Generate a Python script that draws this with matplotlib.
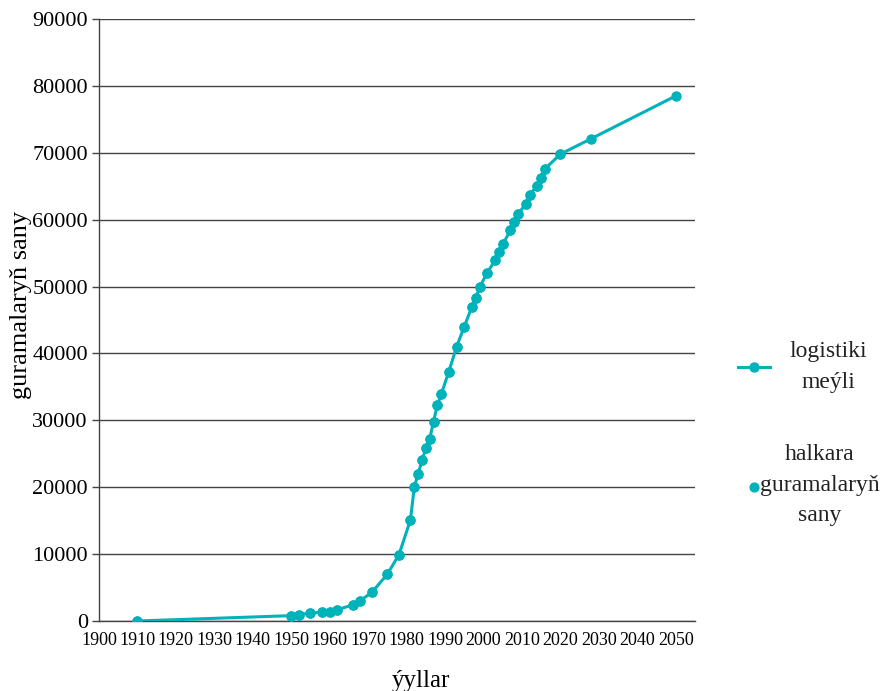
"""Logistic growth of the number of international organisations."""
import matplotlib

matplotlib.use("Agg")
import matplotlib.pyplot as plt

# model curve (logistic fit), years and values
model_years = [1910, 1950, 1952, 1955, 1958, 1960, 1962, 1966, 1968, 1971, 1975,
               1978, 1981, 1982, 1983, 1984, 1985, 1986, 1987, 1988, 1989, 1991,
               1993, 1995, 1997, 1998, 1999, 2001, 2003, 2004, 2005, 2007, 2008,
               2009, 2011, 2012, 2014, 2015, 2016, 2020, 2028, 2050]
model_values = [0, 800, 950, 1200, 1300, 1400, 1700, 2400, 3050, 4300, 7000,
                9900, 15100, 20000, 22000, 24000, 25800, 27200, 29800, 32300, 33900, 37300,
                41000, 44000, 47000, 48300, 49900, 52100, 53900, 55100, 56300, 58400, 59600,
                60900, 62300, 63700, 65100, 66300, 67600, 69800, 72100, 78500]

# observed counts (same points up to 2020)
obs_years = model_years[:-2]
obs_values = model_values[:-2]

y_ticks = list(range(0, 90001, 10000))
x_ticks = list(range(1900, 2051, 10))

TEAL = "#00b2b9"
W, H = 887, 691

plt.rcParams["font.family"] = ["Liberation Serif", "DejaVu Serif"]

fig = plt.figure(figsize=(W / 100, H / 100), dpi=100)
ax = fig.add_axes([0.1116, 0.1013, 0.6719, 0.8712])

line, = ax.plot(model_years, model_values, color=TEAL, linewidth=2.2, marker="o",
                markersize=6.5, zorder=3)
dots = ax.scatter(obs_years, obs_values, color=TEAL, s=40, zorder=4)

ax.set_xlim(1900, 2055)
ax.set_ylim(0, 90000)
ax.set_yticks(y_ticks)
ax.set_xticks(x_ticks)
ax.tick_params(axis="y", labelsize=16, length=5, width=1, color="#444444", pad=3)
ax.tick_params(axis="x", labelsize=13, length=0, pad=8)

ax.grid(axis="y", color="#444444", linewidth=1)
ax.set_axisbelow(True)
for side in ("top", "right"):
    ax.spines[side].set_visible(False)
for side in ("left", "bottom"):
    ax.spines[side].set_color("#444444")
    ax.spines[side].set_linewidth(1)

ax.set_xlabel("ýyllar", fontsize=18)
ax.xaxis.set_label_coords(0.54, -0.082)
ax.set_ylabel("guramalaryň sany", fontsize=19)
ax.yaxis.set_label_coords(-0.113, 0.525)

# two separate legend entries, placed like the original
leg_style = dict(loc="center left", frameon=False, fontsize=17,
                 borderpad=0, borderaxespad=0)
leg1 = fig.legend([line], ["logistiki\nmeýli"], bbox_to_anchor=(738 / W, 1 - 367 / H),
                  handlelength=1.35, handletextpad=0.85, **leg_style)
leg2 = fig.legend([dots], ["halkara\nguramalaryň\nsany"],
                  bbox_to_anchor=(748 / W, 1 - 485 / H),
                  handlelength=0.5, handletextpad=0.0, **leg_style)
for leg in (leg1, leg2):
    for t in leg.get_texts():
        t.set_multialignment("center")
        t.set_linespacing(1.6)
        t.set_color("#222222")

fig.savefig("out.png", dpi=100)
